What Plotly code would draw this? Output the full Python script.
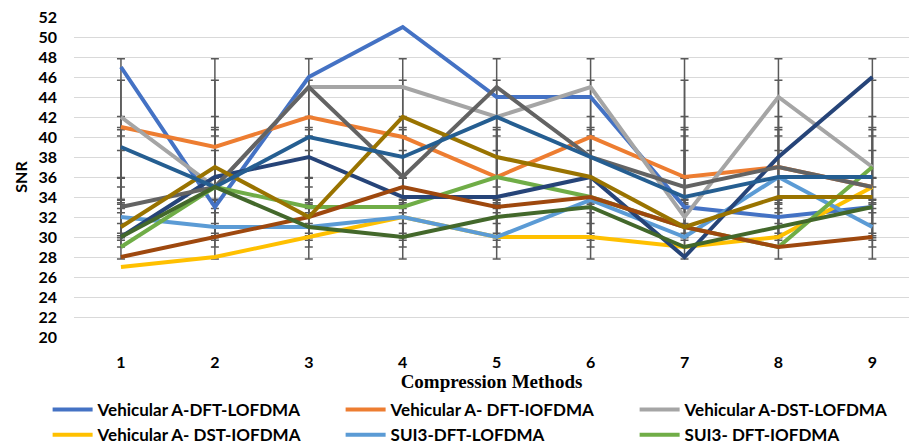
import numpy as np
import plotly.graph_objects as go

methods = [1, 2, 3, 4, 5, 6, 7, 8, 9]
tick_labels = ["1", "2", "3", "4", "5", "6", "7", "8", "9"]

names = [
    "Vehicular A-DFT-LOFDMA",
    "Vehicular A- DFT-IOFDMA",
    "Vehicular A-DST-LOFDMA",
    "Vehicular A- DST-IOFDMA",
    "SUI3-DFT-LOFDMA",
    "SUI3- DFT-IOFDMA",
    "Series7",
    "Series8",
    "Series9",
    "Series10",
    "Series11",
    "Series12",
]

veh_dft_lofdma = [47, 33, 46, 51, 44, 44, 33, 32, 33]
veh_dft_iofdma = [41, 39, 42, 40, 36, 40, 36, 37, 35]
veh_dst_lofdma = [42, 35, 45, 45, 42, 45, 32, 44, 37]
veh_dst_iofdma = [27, 28, 30, 32, 30, 30, 29, 30, 35]
sui3_dft_lofdma = [32, 31, 31, 32, 30, 33.7, 30, 36, 31]
sui3_dft_iofdma = [29, 35, 33, 33, 36, 34, 31, 29, 37]
series7 = [30, 36, 38, 34, 34, 36, 28, 38, 46]
series8 = [28, 30, 32, 35, 33, 34, 31, 29, 30]
series9 = [33, 35, 45, 36, 45, 38, 35, 37, 35]
series10 = [31, 37, 32, 42, 38, 36, 31, 34, 34]
series11 = [39, 35, 40, 38, 42, 38, 34, 36, 36]
series12 = [30, 35, 31, 30, 32, 33, 29, 31, 33]

all_series = [veh_dft_lofdma, veh_dft_iofdma, veh_dst_lofdma, veh_dst_iofdma,
              sui3_dft_lofdma, sui3_dft_iofdma, series7, series8, series9,
              series10, series11, series12]

colors = ["#4472C4", "#ED7D31", "#A5A5A5", "#FFC000", "#5B9BD5", "#70AD47",
          "#264478", "#9E480E", "#636363", "#997300", "#255E91", "#43682B"]

# legend column for each of the first six series
legend_ids = ["legend", "legend2", "legend3", "legend", "legend2", "legend3"]

FONT = "Lato"

fig = go.Figure()

# Standard deviation error bars (Excel style: mean +/- 1 sample SD, same for all points)
for vals in all_series:
    arr = np.array(vals, dtype=float)
    m = arr.mean()
    sd = arr.std(ddof=1)
    fig.add_trace(go.Scatter(
        x=methods, y=[m] * len(methods), mode="markers",
        marker=dict(size=1, color="rgba(0,0,0,0)"),
        error_y=dict(type="data", array=[sd] * len(methods), color="#595959",
                     thickness=1.5, width=4),
        showlegend=False, hoverinfo="skip"))

for i, (vals, name, col) in enumerate(zip(all_series, names, colors)):
    kw = {}
    if i < 6:
        kw["legend"] = legend_ids[i]
    fig.add_trace(go.Scatter(
        x=methods, y=vals, mode="lines", name=name,
        line=dict(color=col, width=4),
        showlegend=(i < 6), **kw))

legend_font = dict(family=FONT, size=17, color="#000000", weight="bold")
common_legend = dict(
    orientation="v", xref="paper", yref="container",
    xanchor="left", yanchor="top", y=0.121,
    font=legend_font, itemwidth=40, tracegroupgap=0,
    bgcolor="rgba(0,0,0,0)", borderwidth=0,
)

fig.update_layout(
    width=909, height=446,
    margin=dict(l=74, r=0, t=17, b=109),
    plot_bgcolor="white", paper_bgcolor="white",
    font=dict(family=FONT, color="#000000"),
    xaxis=dict(
        range=[0.5, 9.39], tickmode="array", tickvals=methods, ticktext=tick_labels,
        showgrid=False, zeroline=False, showline=False, automargin=False,
        tickfont=dict(family=FONT, size=16, color="#000000", weight="bold"),
        ticklabelstandoff=14,
        title=dict(text="<b>Compression Methods</b>",
                   font=dict(family="Liberation Serif", size=19, color="#000000"),
                   standoff=1),
    ),
    yaxis=dict(
        range=[20, 52], dtick=2, tick0=20, automargin=False,
        showgrid=True, gridcolor="#D9D9D9", gridwidth=1.3,
        zeroline=False, showline=False,
        tickfont=dict(family=FONT, size=16, color="#000000", weight="bold"),
        ticklabelstandoff=16,
        title=dict(text="<b>SNR</b>", font=dict(family=FONT, size=16, color="#000000"),
                   standoff=6),
    ),
    legend=dict(x=-0.0316, **common_legend),
    legend2=dict(x=0.3193, **common_legend),
    legend3=dict(x=0.6714, **common_legend),
    showlegend=True,
)

fig.write_html(
    "out.html",
    config={"displayModeBar": False},
    post_script="document.body.style.margin='0';document.body.style.overflow='hidden';",
)
